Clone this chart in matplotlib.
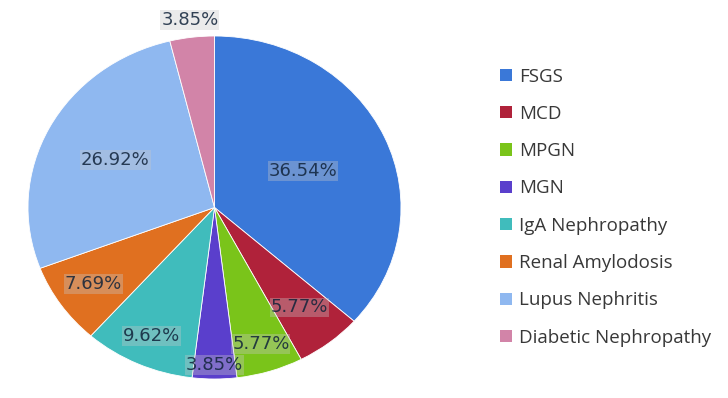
import matplotlib.pyplot as plt
from matplotlib.patches import Patch
import numpy as np

# Biopsy diagnoses (share of cases, %)
categories = ['FSGS', 'MCD', 'MPGN', 'MGN', 'IgA Nephropathy',
              'Renal Amylodosis', 'Lupus Nephritis', 'Diabetic Nephropathy']
shares = [36.54, 5.77, 5.77, 3.85, 9.62, 7.69, 26.92, 3.85]
colors = ['#3a78d8', '#b0223a', '#7ac41a', '#5a3fcc',
          '#40bcbc', '#e07020', '#8fb8f0', '#d284a8']
# radial position of each data label (fraction of radius)
label_radius = [0.52, 0.74, 0.835, 0.92, 0.82, 0.79, 0.6, 1.1]

fig = plt.figure(figsize=(7.28, 3.98), dpi=100)
ax = fig.add_axes([28 / 728, 19 / 398, 373 / 728, 343 / 398])

wedges, _ = ax.pie(shares, colors=colors, startangle=90, counterclock=False,
                   wedgeprops=dict(edgecolor='white', linewidth=0.6))
ax.set_aspect('auto')
ax.set_xlim(-1, 1)
ax.set_ylim(-1, 1)
ax.axis('off')

# data labels
cum = np.cumsum([0] + shares[:-1])
for s, c, r in zip(shares, cum, label_radius):
    ang = np.deg2rad(90 - (c + s / 2) / 100 * 360)
    ax.text(r * np.cos(ang), r * np.sin(ang), f'{s:.2f}%',
            ha='center', va='center', fontsize=13, color='#10233a', alpha=0.85,
            bbox=dict(boxstyle='square,pad=0.05', facecolor='#c8c8c8',
                      edgecolor='none', alpha=0.35),
            clip_on=False)

handles = [Patch(facecolor=col, edgecolor='none') for col in colors]
fig.legend(handles, categories, loc='upper left',
           bbox_to_anchor=(500 / 728, 1 - 67.5 / 398), frameon=False,
           prop=dict(family='Open Sans', size=13.5), labelcolor='#383838',
           handlelength=0.62, handleheight=0.62, handletextpad=0.4,
           labelspacing=1.03, borderpad=0, borderaxespad=0)

fig.savefig('out.png', dpi=100)
